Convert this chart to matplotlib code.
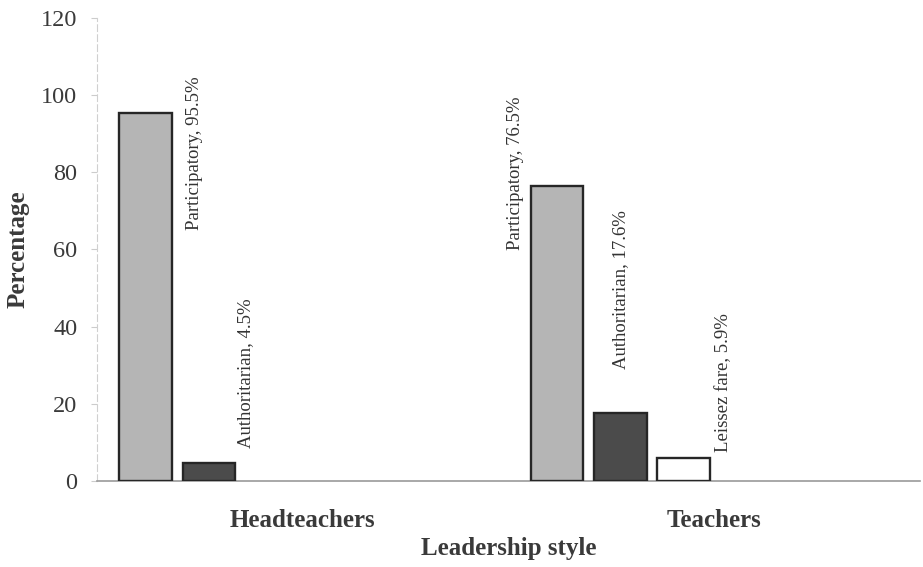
"""
Leadership style bar chart (headteachers vs teachers)
"""

import matplotlib.pyplot as plt
import numpy as np

GROUPS = ["Headteachers", "Teachers"]
STYLES = ["Participatory", "Authoritarian", "Leissez fare"]
PARTICIPATORY = [95.5, 76.5]
AUTHORITARIAN = [4.5, 17.6]
LEISSEZ_FARE = [np.nan, 5.9]

COLORS = ["#b5b5b5", "#4b4b4b", "#ffffff"]
SLOT_OFFSETS = [-0.382, -0.228, -0.075]
BAR_WIDTH = 0.127

# label placement per (group, style): x offset from bar centre, y centre
LABEL_POS = {
    (0, 0): (0.118, 85.0),
    (0, 1): (0.088, 28.0),
    (1, 0): (-0.100, 79.7),
    (1, 1): (0.000, 49.5),
    (1, 2): (0.098, 25.5),
}


def plot_leadership_style() -> None:
    """
    Function to plot the leadership style chart
    """

    plt.rcParams["font.family"] = ["Liberation Serif", "DejaVu Serif"]

    fig = plt.figure(figsize=(9.23, 5.67), dpi=100)
    ax = fig.add_axes([0.105, 0.152, 0.892, 0.816])

    series = [PARTICIPATORY, AUTHORITARIAN, LEISSEZ_FARE]
    x = np.arange(len(GROUPS))

    for s, values in enumerate(series):
        for g, val in enumerate(values):
            if np.isnan(val):
                continue
            xc = x[g] + SLOT_OFFSETS[s]
            ax.bar(
                xc,
                val,
                width=BAR_WIDTH,
                color=COLORS[s],
                edgecolor="#262626",
                linewidth=1.7,
                zorder=3,
            )
            dx, yc = LABEL_POS[(g, s)]
            ax.text(
                xc + dx,
                yc,
                f"{STYLES[s]}, {val:.1f}%",
                rotation=90,
                ha="center",
                va="center",
                fontsize=13.5,
                color="#333333",
            )

    ax.set_xlim(-0.5, 1.5)
    ax.set_ylim(0, 120)
    ax.set_yticks(range(0, 121, 20))
    ax.set_xticks(x)
    ax.set_xticklabels(GROUPS, fontsize=18, fontweight="bold", color="#3a3a3a")
    ax.tick_params(axis="x", length=0, pad=20)
    ax.tick_params(axis="y", length=4, color="#cccccc", labelsize=17.5, labelcolor="#3a3a3a", pad=10)

    # remove the frame except the axis lines
    ax.spines["top"].set_visible(False)
    ax.spines["right"].set_visible(False)
    ax.spines["left"].set_color("#d0d0d0")
    ax.spines["left"].set_linestyle((0, (6, 3)))
    ax.spines["bottom"].set_color("#9a9a9a")
    ax.spines["bottom"].set_linewidth(1.2)

    ax.set_xlabel("Leadership style", fontsize=18, fontweight="bold", color="#3a3a3a", labelpad=4)
    ax.set_ylabel("Percentage", fontsize=18, fontweight="bold", color="#3a3a3a", labelpad=8)

    fig.savefig("out.png", dpi=100)


if __name__ == "__main__":
    plot_leadership_style()
